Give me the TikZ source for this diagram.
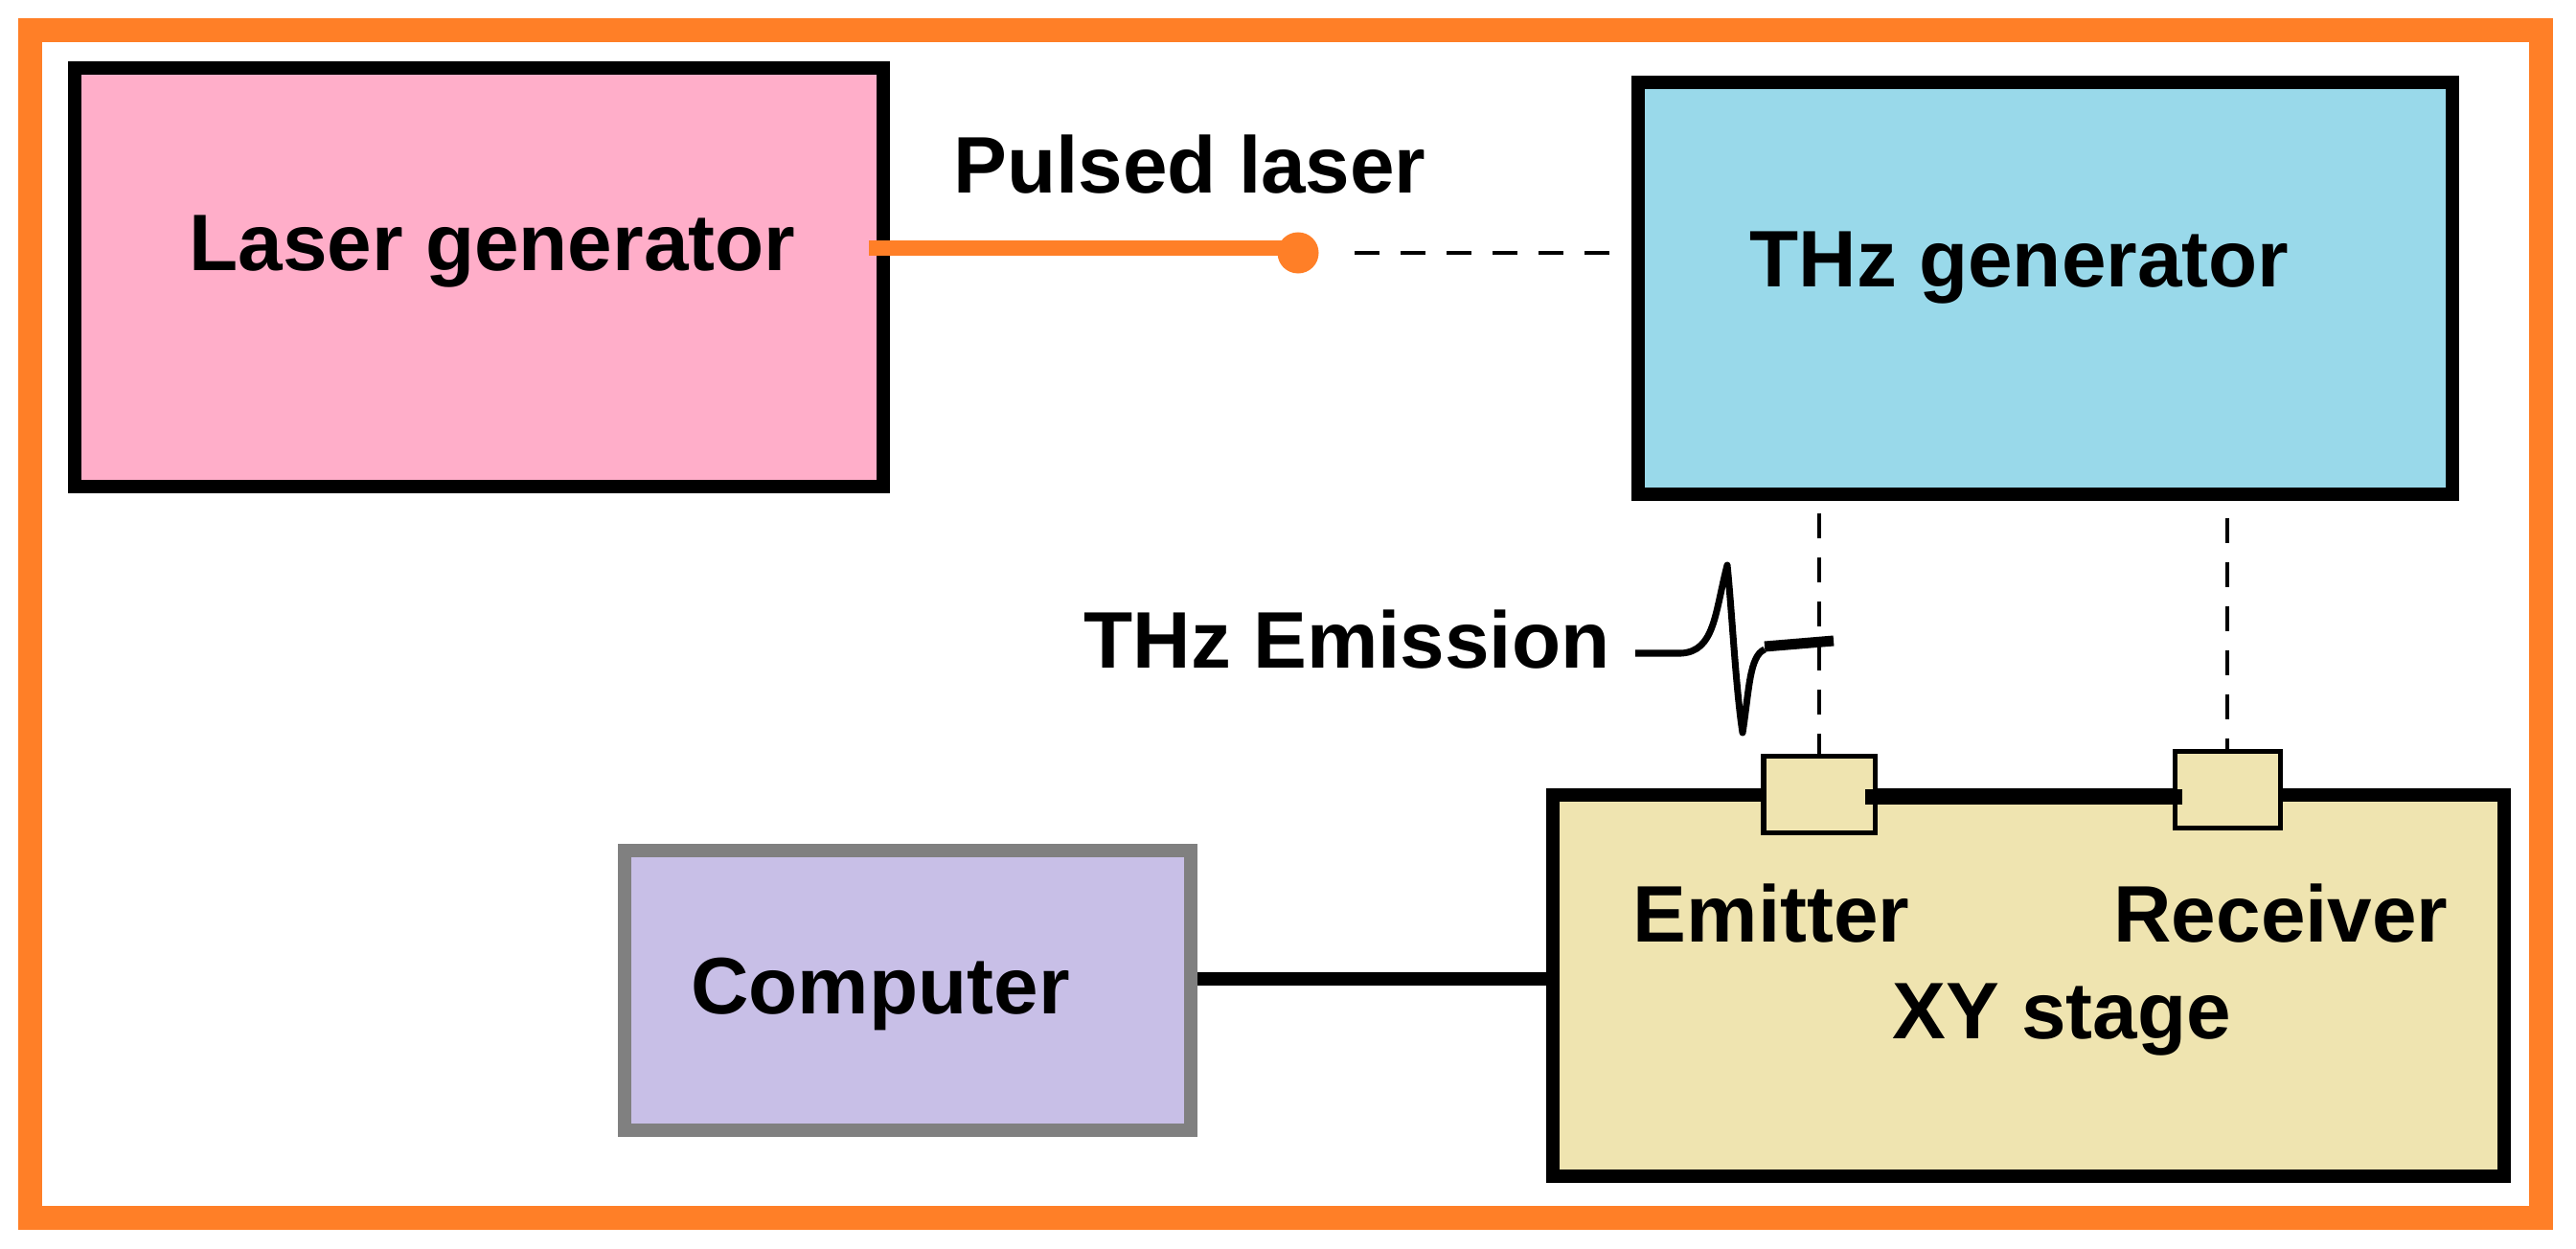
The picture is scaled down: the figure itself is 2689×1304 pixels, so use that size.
\documentclass[tikz,border=0pt]{standalone}
\usepackage{fontspec}
\setmainfont{Liberation Sans}
\usepackage{tikz}

\definecolor{frameorange}{HTML}{FF7F27}
\definecolor{laserpink}{HTML}{FFAEC9}
\definecolor{thzblue}{HTML}{99D9EA}
\definecolor{stagebeige}{HTML}{EFE4B0}
\definecolor{pclavender}{HTML}{C8BFE7}

\begin{document}
\begin{tikzpicture}[x=0.01cm,y=-0.01cm]
	\tikzstyle{unit}=[draw,shape=rectangle,line width=0.14cm,inner sep=0pt]
	\tikzstyle{slot}=[draw,shape=rectangle,line width=0.05cm,fill=stagebeige,inner sep=0pt,minimum height=0.79cm]
	\tikzstyle{caption}=[anchor=base,inner sep=0pt,font=\bfseries\fontsize{23.8}{28}\selectfont]
	\tikzstyle{beam}=[dash pattern=on 0.26cm off 0.2cm,line width=0.045cm]

	\useasboundingbox (0,0) rectangle (2689,1304);
	\node[draw=frameorange,line width=0.25cm,minimum width=26.2cm,minimum height=12.39cm,inner sep=0pt](frame) at (1342,651.5){};

	\node[unit,fill=laserpink,minimum width=8.44cm,minimum height=4.37cm](laser) at (500,289.5){};
	\node[unit,fill=thzblue,minimum width=8.5cm,minimum height=4.3cm](thz) at (2135,301){};
	\node[unit,draw=gray,fill=pclavender,minimum width=5.91cm,minimum height=2.92cm](computer) at (947.5,1034){};
	\node[unit,fill=stagebeige,minimum width=9.93cm,minimum height=3.98cm](stage) at (2117.5,1029){};

	\node[slot,minimum width=1.16cm](emitter) at (1899,829.5){};
	\node[slot,minimum width=1.1cm](receiver) at (2325,824.5){};

	\node[caption](lasertext) at (514,283){Laser generator};
	\node[caption](pulsetext) at (1242,202){Pulsed laser};
	\node[caption](thztext) at (2108,300){THz generator};
	\node[caption](emissiontext) at (1406,698){THz Emission};
	\node[caption](computertext) at (919,1058){Computer};
	\node[caption](emittertext) at (1849,983){Emitter};
	\node[caption](receivertext) at (2381,983){Receiver};
	\node[caption](stagetext) at (2152,1084){XY stage};

	\node[fill=frameorange,shape=circle,minimum size=0.43cm,inner sep=0pt](dot) at (1355,264){};
	\coordinate (hstart) at (1414,264);
	\coordinate (hend) at (1680,264);
	\coordinate (estart) at (1899,536);
	\coordinate (rstart) at (2325,541);
	\coordinate (lstart) at (907,259);
	\coordinate (tstart) at (1947,832);

	\draw[frameorange,line width=0.16cm] (lstart) -- (lstart -| dot);
	\draw[beam,dash pattern=on 0.26cm off 0.22cm] (hstart) -- (hend);
	\draw[beam] (estart) -- (emitter.north);
	\draw[beam] (rstart) -- (receiver.north);

	\draw[line width=0.14cm] ([yshift=0.12cm]computer.east) -- ([yshift=0.12cm]computer.east -| stage.west);
	\draw[line width=0.15cm] (tstart) -- ([xshift=0.1cm]receiver.west |- tstart);

	% pulse
	\draw[line width=0.07cm,line join=round] (1707,682) -- (1755,682) .. controls (1790,680) and (1790,640) .. (1803,590)
		.. controls (1808,640) and (1812,720) .. (1819,765)
		.. controls (1826,720) and (1826,685) .. (1842,678);
	\draw[line width=0.11cm] (1842,675) -- (1914,669);
\end{tikzpicture}
\end{document}
